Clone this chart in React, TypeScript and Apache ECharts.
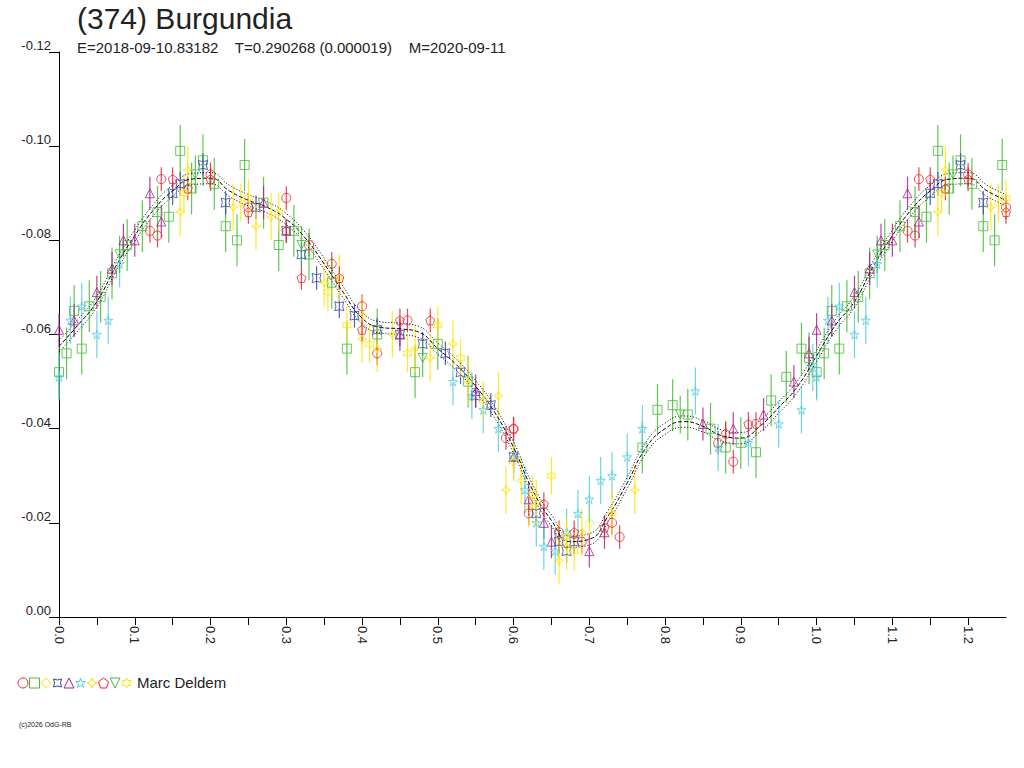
import { useEffect, useRef } from "react";
import * as echarts from "echarts";

// fitted curve, phase step 0.025 from 0.0 to 1.0
const curvePhase = [
  0, 0.025, 0.05, 0.075, 0.1, 0.125, 0.15, 0.175, 0.2, 0.225, 0.25, 0.275, 0.3, 0.325, 0.35, 0.375, 0.4,
  0.425, 0.45, 0.475, 0.5, 0.525, 0.55, 0.575, 0.6, 0.625, 0.65, 0.675, 0.7, 0.725, 0.75, 0.775, 0.8,
  0.825, 0.85, 0.875, 0.9, 0.925, 0.95, 0.975, 1.0,
];
const curveMag = [
  -0.0575, -0.062, -0.067, -0.0745, -0.081, -0.0865, -0.0905, -0.093, -0.0932, -0.0905, -0.0885, -0.087,
  -0.0845, -0.0805, -0.075, -0.069, -0.0635, -0.0615, -0.0612, -0.0605, -0.057, -0.0535, -0.049, -0.0435,
  -0.036, -0.027, -0.0205, -0.016, -0.0165, -0.0215, -0.0285, -0.036, -0.04, -0.0415, -0.0405, -0.0385,
  -0.038, -0.0405, -0.0445, -0.049, -0.0555,
];

type Pt = [number, number];
const redCircle: Pt[] = [[0.12,-0.082],[0.13,-0.081],[0.135,-0.093],[0.2,-0.094],[0.25,-0.087],[0.3,-0.089],[0.33,-0.079],[0.36,-0.075],[0.4,-0.066],[0.42,-0.056],[0.46,-0.063],[0.59,-0.038],[0.6,-0.04],[0.62,-0.022],[0.66,-0.018],[0.69,-0.016],[0.73,-0.02],[0.74,-0.017],[0.87,-0.037],[0.89,-0.033],[0.92,-0.041]];
const greenSquare: Pt[] = [[0.0,-0.052],[0.01,-0.056],[0.02,-0.065],[0.03,-0.057],[0.04,-0.066],[0.055,-0.068],[0.07,-0.073],[0.09,-0.079],[0.11,-0.083],[0.13,-0.086],[0.145,-0.085],[0.16,-0.099],[0.175,-0.091],[0.19,-0.097],[0.205,-0.092],[0.22,-0.083],[0.235,-0.08],[0.245,-0.096],[0.27,-0.088],[0.29,-0.079],[0.31,-0.082],[0.33,-0.077],[0.36,-0.071],[0.38,-0.057],[0.42,-0.06],[0.47,-0.052],[0.5,-0.058],[0.54,-0.05],[0.77,-0.036],[0.79,-0.044],[0.81,-0.045],[0.83,-0.043],[0.86,-0.04],[0.88,-0.036],[0.9,-0.037],[0.92,-0.035],[0.94,-0.046],[0.96,-0.051],[0.98,-0.057],[0.99,-0.055]];
const yellowDiamond: Pt[] = [[0.24,-0.088],[0.4,-0.064],[0.62,-0.023],[0.66,-0.016],[0.7,-0.02]];
const blueAstroid: Pt[] = [[0.15,-0.09],[0.16,-0.092],[0.19,-0.096],[0.22,-0.088],[0.26,-0.087],[0.3,-0.082],[0.32,-0.077],[0.34,-0.072],[0.37,-0.066],[0.39,-0.064],[0.42,-0.061],[0.45,-0.06],[0.48,-0.058],[0.51,-0.056],[0.53,-0.052],[0.55,-0.047],[0.57,-0.045],[0.6,-0.034],[0.63,-0.022],[0.66,-0.016],[0.67,-0.014],[0.68,-0.016]];
const purpleTriangle: Pt[] = [[0.0,-0.061],[0.02,-0.063],[0.05,-0.069],[0.07,-0.074],[0.085,-0.08],[0.1,-0.08],[0.12,-0.09],[0.135,-0.084],[0.27,-0.088],[0.45,-0.06],[0.55,-0.048],[0.6,-0.034],[0.62,-0.025],[0.64,-0.02],[0.65,-0.016],[0.7,-0.014],[0.72,-0.018],[0.85,-0.041],[0.89,-0.04],[0.93,-0.043],[0.97,-0.05],[0.99,-0.056]];
const cyanStar: Pt[] = [[0.0,-0.051],[0.015,-0.063],[0.03,-0.066],[0.05,-0.06],[0.065,-0.063],[0.08,-0.075],[0.52,-0.05],[0.545,-0.047],[0.56,-0.044],[0.58,-0.04],[0.6,-0.034],[0.615,-0.027],[0.63,-0.02],[0.64,-0.015],[0.655,-0.014],[0.67,-0.018],[0.685,-0.022],[0.7,-0.025],[0.715,-0.029],[0.73,-0.03],[0.75,-0.034],[0.77,-0.04],[0.84,-0.048],[0.87,-0.036],[0.91,-0.037],[0.95,-0.041],[0.98,-0.044],[0.995,-0.053]];
const yellowSparkle: Pt[] = [[0.16,-0.086],[0.17,-0.095],[0.23,-0.087],[0.26,-0.083],[0.28,-0.085],[0.35,-0.071],[0.37,-0.072],[0.4,-0.059],[0.42,-0.057],[0.44,-0.06],[0.47,-0.057],[0.49,-0.055],[0.52,-0.058],[0.54,-0.05],[0.58,-0.047],[0.59,-0.027],[0.61,-0.029],[0.63,-0.024],[0.66,-0.012],[0.67,-0.015],[0.69,-0.018],[0.73,-0.022],[0.76,-0.027]];
const redPentagon: Pt[] = [[0.15,-0.093],[0.17,-0.091],[0.2,-0.093],[0.25,-0.086],[0.3,-0.082],[0.32,-0.072],[0.37,-0.072],[0.4,-0.061],[0.45,-0.063],[0.49,-0.063],[0.6,-0.04],[0.64,-0.024],[0.68,-0.018],[0.72,-0.019],[0.88,-0.039],[0.91,-0.041]];
const greenDown: Pt[] = [[0.08,-0.077],[0.18,-0.094],[0.32,-0.079],[0.48,-0.055],[0.82,-0.043]];
const yellowHex: Pt[] = [[0.165,-0.09],[0.25,-0.089],[0.29,-0.086],[0.355,-0.069],[0.38,-0.062],[0.41,-0.058],[0.46,-0.056],[0.5,-0.062],[0.53,-0.055],[0.56,-0.046],[0.6,-0.033],[0.625,-0.026],[0.65,-0.03],[0.67,-0.017],[0.68,-0.014]];

const SHAPES = {
  circle: "M5 0A5 5 0 1 1 4.99 0Z",
  square: "M0 0H10V10H0Z",
  diamond: "M5 0L10 5L5 10L0 5Z",
  astroid: "M1 1Q5 3 9 1Q7 5 9 9Q5 7 1 9Q3 5 1 1Z",
  triangle: "M5 0L10 10L0 10Z",
  star: "M5 0L6.2 3.6H10L6.9 5.8L8.1 9.5L5 7.2L1.9 9.5L3.1 5.8L0 3.6H3.8Z",
  sparkle: "M5 0L6.5 3.5L10 5L6.5 6.5L5 10L3.5 6.5L0 5L3.5 3.5Z",
  pentagon: "M5 0L10 3.8L8 10H2L0 3.8Z",
  down: "M0 0H10L5 10Z",
  hex: "M5 0L6.4 2.5H9.3L7.9 5L9.3 7.5H6.4L5 10L3.6 7.5H0.7L2.1 5L0.7 2.5H3.6Z",
};

const sessions = [
  { data: redCircle, color: "#ee2233", shape: "circle", err: 0.0025 },
  { data: greenSquare, color: "#44bb33", shape: "square", err: 0.0055 },
  { data: yellowDiamond, color: "#ffe400", shape: "diamond", err: 0.004 },
  { data: blueAstroid, color: "#3344aa", shape: "astroid", err: 0.0025 },
  { data: purpleTriangle, color: "#aa2288", shape: "triangle", err: 0.0035 },
  { data: cyanStar, color: "#55ccdd", shape: "star", err: 0.005 },
  { data: yellowSparkle, color: "#ffe400", shape: "sparkle", err: 0.005 },
  { data: redPentagon, color: "#ee2233", shape: "pentagon", err: 0.0025 },
  { data: greenDown, color: "#44bb33", shape: "down", err: 0.004 },
  { data: yellowHex, color: "#ffe400", shape: "hex", err: 0.004 },
];

// phases below 0.25 are repeated after 1.0
const wrap = (pts: Pt[]) => [...pts, ...pts.filter((p) => p[0] <= 0.25).map((p) => [p[0] + 1, p[1]] as Pt)];

const FONT = "Liberation Sans, Arial, sans-serif";

export default function App() {
  const ref = useRef<HTMLDivElement>(null);

  useEffect(() => {
    if (!ref.current) return;
    Object.entries(SHAPES).forEach(([k, d]) => {
      echarts.graphic.registerShape("sym_" + k, echarts.graphic.extendPath(d, {}) as any);
    });
    const chart = echarts.init(ref.current, null, { renderer: "svg" });

    const curve: Pt[] = wrap(curvePhase.map((x, i) => [x, curveMag[i]] as Pt))
      .filter((p, i, arr) => arr.findIndex((q) => q[0] === p[0]) === i)
      .sort((a, b) => a[0] - b[0]);

    const errSeries = sessions.map((s) => ({
      type: "custom",
      silent: true,
      z: 1,
      data: wrap(s.data).map((p) => [p[0], p[1], s.err]),
      renderItem: (_: any, api: any) => {
        const x = api.value(0), y = api.value(1), e = api.value(2);
        const a = api.coord([x, y - e]);
        const b = api.coord([x, y + e]);
        return { type: "line", shape: { x1: a[0], y1: a[1], x2: b[0], y2: b[1] }, style: { stroke: s.color, lineWidth: 1.2, opacity: 0.85 } };
      },
    }));

    const lineBase = { type: "line", showSymbol: false, silent: true, smooth: true, z: 2 };
    const curveSeries = [
      { ...lineBase, data: curve, lineStyle: { color: "#000", width: 1, type: [4, 2] } },
      { ...lineBase, data: curve.map((p) => [p[0], p[1] - 0.0012]), lineStyle: { color: "#000", width: 1, type: [1, 2] } },
      { ...lineBase, data: curve.map((p) => [p[0], p[1] + 0.0012]), lineStyle: { color: "#000", width: 1, type: [1, 2] } },
    ];

    const symSeries = sessions.map((s) => ({
      type: "scatter",
      z: 3,
      data: wrap(s.data),
      symbol: "path://" + (SHAPES as any)[s.shape],
      symbolSize: 9,
      itemStyle: { color: "rgba(0,0,0,0)", borderColor: s.color, borderWidth: 1 },
    }));

    const legend: any[] = sessions.map((s, i) => ({
      type: "sym_" + s.shape,
      x: 18 + i * 11.5,
      y: 678,
      style: { fill: "none", stroke: s.color, lineWidth: 1 },
    }));

    chart.setOption({
      animation: false,
      textStyle: { fontFamily: FONT },
      grid: { left: 59, right: 18, top: 52, bottom: 151 },
      xAxis: {
        type: "value",
        min: 0,
        max: 1.25,
        interval: 0.05,
        axisLine: { lineStyle: { color: "#000" } },
        axisTick: { length: 8, lineStyle: { color: "#000" } },
        splitLine: { show: false },
        axisLabel: {
          rotate: -90,
          color: "#222",
          fontSize: 13,
          margin: 9,
          showMaxLabel: false,
          padding: [0, 0, 0, 0],
          formatter: (v: number) => (Math.abs(Math.round(v * 10) - v * 10) < 1e-6 ? v.toFixed(1) : ""),
        },
      },
      yAxis: {
        type: "value",
        inverse: true,
        min: -0.12,
        max: 0,
        interval: 0.02,
        axisLine: { show: true, lineStyle: { color: "#000" } },
        axisTick: { show: true, length: 10, lineStyle: { color: "#000" } },
        splitLine: { show: false },
        axisLabel: { color: "#222", fontSize: 13, margin: 8, verticalAlign: "bottom", formatter: (v: number) => v.toFixed(2) },
      },
      graphic: [
        { type: "text", left: 77, top: 3, style: { text: "(374) Burgundia", fontSize: 30, fill: "#222", fontFamily: FONT } },
        { type: "text", left: 77, top: 40, style: { text: "E=2018-09-10.83182    T=0.290268 (0.000019)    M=2020-09-11", fontSize: 15, fill: "#222", fontFamily: FONT } },
        ...legend,
        { type: "text", left: 137, top: 675, style: { text: "Marc Deldem", fontSize: 15, fill: "#222", fontFamily: FONT } },
        { type: "text", left: 19, top: 721, style: { text: "(c)2026 OdG-RB", fontSize: 7, fill: "#222", fontFamily: FONT } },
      ],
      series: [...errSeries, ...curveSeries, ...symSeries],
    });

    return () => chart.dispose();
  }, []);

  return <div ref={ref} style={{ width: 1024, height: 768, position: "absolute", left: 0, top: 0, background: "#fff" }} />;
}
